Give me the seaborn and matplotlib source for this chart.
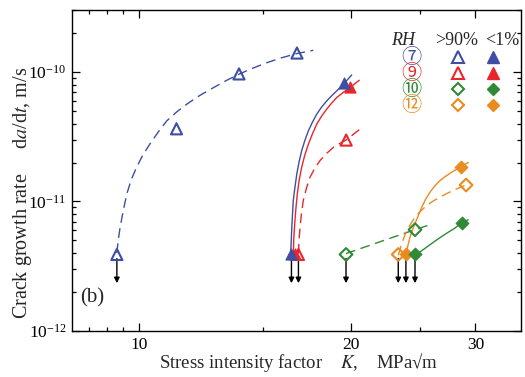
import numpy as np
import pandas as pd
import matplotlib
matplotlib.use("Agg")
import matplotlib.pyplot as plt
from matplotlib.ticker import FixedLocator, NullFormatter, LogLocator, LogFormatterSciNotation
import seaborn as sns

# ---------------- data ----------------
# markers: (K [MPa sqrt(m)], da/dt [m/s])
K7_wet = [9.30, 11.3, 13.86, 16.75]
r7_wet = [3.9e-12, 3.64e-11, 9.66e-11, 1.40e-10]
K7_dry = [16.45, 19.53]
r7_dry = [3.9e-12, 8.2e-11]
K9_wet = [16.83, 19.67]
r9_wet = [3.9e-12, 2.98e-11]
K9_dry = [16.62, 19.95]
r9_dry = [3.9e-12, 7.6e-11]
K10_wet = [19.66, 24.63]
r10_wet = [3.9e-12, 6.06e-12]
K10_dry = [24.63, 28.7]
r10_dry = [3.9e-12, 6.81e-12]
K12_wet = [23.32, 29.1]
r12_wet = [3.9e-12, 1.34e-11]
K12_dry = [23.91, 28.62]
r12_dry = [3.9e-12, 1.86e-11]

# fitted trend curves
cK7_wet = [9.30, 9.34, 9.40, 9.50, 9.61, 9.75, 9.92, 10.13, 10.36, 10.65, 10.95, 11.30, 11.69,
           12.20, 12.75, 13.30, 13.91, 14.50, 15.18, 15.95, 16.77, 17.67]
cr7_wet = [4.0e-12, 5.0e-12, 6.34e-12, 8.6e-12, 1.15e-11, 1.48e-11, 1.84e-11, 2.30e-11, 2.78e-11,
           3.45e-11, 4.2e-11, 4.9e-11, 5.65e-11, 6.6e-11, 7.57e-11, 8.6e-11, 9.7e-11, 1.07e-10,
           1.18e-10, 1.29e-10, 1.39e-10, 1.47e-10]
cK7_dry = [16.41, 16.44, 16.47, 16.51, 16.55, 16.64, 16.74, 16.86, 17.01, 17.19, 17.39, 17.62,
           17.87, 18.15, 18.46, 18.76, 19.07, 19.30, 19.53, 19.78, 20.03]
cr7_dry = [3.96e-12, 5.0e-12, 6.34e-12, 8.1e-12, 1.02e-11, 1.29e-11, 1.63e-11, 2.01e-11, 2.47e-11,
           2.97e-11, 3.52e-11, 4.1e-11, 4.73e-11, 5.35e-11, 5.98e-11, 6.55e-11, 7.14e-11, 7.62e-11,
           8.13e-11, 8.78e-11, 9.48e-11]
cK9_dry = [16.55, 16.58, 16.64, 16.70, 16.77, 16.87, 17.01, 17.18, 17.39, 17.62, 17.87, 18.15,
           18.46, 18.76, 19.07, 19.48, 19.92, 20.22, 20.53]
cr9_dry = [3.96e-12, 5.3e-12, 7.14e-12, 9.1e-12, 1.15e-11, 1.46e-11, 1.84e-11, 2.27e-11, 2.78e-11,
           3.33e-11, 3.96e-11, 4.55e-11, 5.17e-11, 5.75e-11, 6.34e-11, 6.95e-11, 7.57e-11,
           8.1e-11, 8.63e-11]
cK9_wet = [16.83, 16.86, 16.92, 17.00, 17.10, 17.27, 17.48, 17.75, 18.06, 18.45, 18.87, 19.26,
           19.66, 20.12, 20.58]
cr9_wet = [3.96e-12, 5.0e-12, 6.34e-12, 8.1e-12, 1.02e-11, 1.26e-11, 1.54e-11, 1.80e-11, 2.07e-11,
           2.35e-11, 2.62e-11, 2.80e-11, 2.98e-11, 3.29e-11, 3.62e-11]
cK10_wet = [19.66, 22.0, 24.63, 25.7]
cr10_wet = [3.96e-12, 4.9e-12, 6.06e-12, 6.54e-12]
cK10_dry = [24.63, 25.1, 25.6, 26.15, 26.73, 27.3, 27.92, 28.3, 28.7, 29.3]
cr10_dry = [3.84e-12, 4.12e-12, 4.45e-12, 4.84e-12, 5.26e-12, 5.68e-12, 6.12e-12, 6.45e-12,
            6.81e-12, 7.23e-12]
cK12_dry = [23.91, 24.05, 24.23, 24.42, 24.63, 24.90, 25.18, 25.50, 25.87, 26.28, 26.73, 27.15,
            27.61, 28.10, 28.62, 29.31]
cr12_dry = [3.84e-12, 4.5e-12, 5.31e-12, 6.0e-12, 6.74e-12, 7.8e-12, 9.04e-12, 1.04e-11, 1.18e-11,
            1.32e-11, 1.45e-11, 1.55e-11, 1.65e-11, 1.75e-11, 1.86e-11, 2.0e-11]
cK12_wet = [23.32, 23.45, 23.58, 23.77, 23.97, 24.30, 24.63, 25.10, 25.6, 26.15, 26.73, 27.30,
            27.92, 28.50, 29.1, 29.48]
cr12_wet = [3.84e-12, 4.25e-12, 4.73e-12, 5.3e-12, 5.98e-12, 6.75e-12, 7.57e-12, 8.45e-12,
            9.31e-12, 1.01e-11, 1.08e-11, 1.15e-11, 1.22e-11, 1.28e-11, 1.34e-11, 1.40e-11]

# threshold (no growth) arrows below these K values
arrow_K = [9.30, 16.45, 16.83, 19.66, 23.32, 23.91, 24.63]
arrow_r = [3.9e-12] * len(arrow_K)

legend_ids = ["⑦", "⑨", "⑩", "⑫"]
legend_head = ["RH", ">90%", "<1%"]
x_ticks = [10, 20, 30]
x_minor = [8.5, 9, 9.5, 15, 25]

# ---------------- style ----------------
sns.set_style("ticks")
plt.rcParams["font.family"] = ["Liberation Serif", "DejaVu Sans"]
plt.rcParams["mathtext.fontset"] = "stix"

BLUE = "#3d4ea3"
RED = "#e8262b"
GREEN = "#2f8a36"
ORANGE = "#e98b1e"

fig, ax = plt.subplots(figsize=(5.25, 3.77), dpi=100)
fig.subplots_adjust(left=0.137, right=0.992, top=0.973, bottom=0.122)
ax.set_xscale("log")
ax.set_yscale("log")

def curve(K, r, color, dashed):
    df = pd.DataFrame({"K": K, "r": r})
    sns.lineplot(data=df, x="K", y="r", ax=ax, color=color, lw=1.0,
                 sort=False, estimator=None, legend=False)
    line = ax.lines[-1]
    if dashed:
        line.set_dashes([7, 4])

curve(cK7_wet, cr7_wet, BLUE, True)
curve(cK7_dry, cr7_dry, BLUE, False)
curve(cK9_dry, cr9_dry, RED, False)
curve(cK9_wet, cr9_wet, RED, True)
curve(cK10_wet, cr10_wet, GREEN, True)
curve(cK10_dry, cr10_dry, GREEN, False)
curve(cK12_dry, cr12_dry, ORANGE, False)
curve(cK12_wet, cr12_wet, ORANGE, True)

# arrows
for k, r in zip(arrow_K, arrow_r):
    ax.annotate("", xy=(k, r * 0.60), xytext=(k, r * 0.93),
                arrowprops=dict(arrowstyle="-|>", color="black", lw=1.0,
                                mutation_scale=8, shrinkA=0, shrinkB=0))

def pts(K, r, color, marker, filled, s):
    df = pd.DataFrame({"K": K, "r": r})
    if filled:
        sns.scatterplot(data=df, x="K", y="r", ax=ax, marker=marker, s=s,
                        color=color, edgecolor=color, linewidth=0.8, zorder=5, legend=False)
    else:
        sns.scatterplot(data=df, x="K", y="r", ax=ax, marker=marker, s=s,
                        facecolor="none", edgecolor=color, linewidth=1.5, zorder=5, legend=False)

pts(K7_wet, r7_wet, BLUE, "^", False, 64)
pts(K9_wet, r9_wet, RED, "^", False, 64)
pts(K9_dry, r9_dry, RED, "^", True, 64)
pts(K7_dry, r7_dry, BLUE, "^", True, 64)
pts(K10_wet, r10_wet, GREEN, "D", False, 42)
pts(K12_wet, r12_wet, ORANGE, "D", False, 42)
pts(K12_dry, r12_dry, ORANGE, "D", True, 42)
pts(K10_dry, r10_dry, GREEN, "D", True, 42)

# axes
ax.set_xlim(8.03, 34.8)
ax.set_ylim(1e-12, 3.0e-10)
ax.xaxis.set_major_locator(FixedLocator(x_ticks))
ax.xaxis.set_minor_locator(FixedLocator(x_minor))
ax.set_xticklabels([str(t) for t in x_ticks])
ax.xaxis.set_minor_formatter(NullFormatter())
ax.yaxis.set_major_locator(LogLocator(base=10, numticks=10))
ax.yaxis.set_minor_locator(LogLocator(base=10, subs=np.arange(2, 10), numticks=20))
ax.yaxis.set_major_formatter(LogFormatterSciNotation())
ax.yaxis.set_minor_formatter(NullFormatter())
ax.tick_params(which="both", direction="in", top=True, right=True, width=0.9,
               labelsize=12.5, colors="black")
ax.tick_params(which="major", length=6, pad=4)
ax.tick_params(which="minor", length=3)
for sp in ax.spines.values():
    sp.set_color("black")
    sp.set_linewidth(1.0)

ax.set_xlabel("Stress intensity factor    $K$,    MPa√m", fontsize=13.5)
ax.set_ylabel("Crack growth rate     d$a$/d$t$, m/s", fontsize=14.5)
ax.xaxis.set_label_coords(0.506, -0.062)
ax.yaxis.set_label_coords(-0.084, 0.43)

ax.text(0.018, 0.103, "(b)", transform=ax.transAxes, fontsize=15, va="center", ha="left")

# custom legend table
ax.text(0.737, 0.907, legend_head[0], transform=ax.transAxes, fontsize=13,
        style="italic", ha="center", va="center")
ax.text(0.857, 0.907, legend_head[1], transform=ax.transAxes, fontsize=13,
        ha="center", va="center")
ax.text(0.958, 0.907, legend_head[2], transform=ax.transAxes, fontsize=13,
        ha="center", va="center")
rows_y = [0.854, 0.804, 0.754, 0.704]
colors = [BLUE, RED, GREEN, ORANGE]
markers = ["^", "^", "D", "D"]
msz = [8, 8, 6.5, 6.5]
for lab, yy, c, m, ms in zip(legend_ids, rows_y, colors, markers, msz):
    ax.text(0.757, yy, lab, transform=ax.transAxes, fontsize=14.5, color=c,
            ha="center", va="center", family=["Noto Sans CJK JP", "DejaVu Sans"])
    ax.plot([0.860], [yy], transform=ax.transAxes, marker=m, ms=ms, mfc="none",
            mec=c, mew=1.5, ls="none", clip_on=False)
    ax.plot([0.938], [yy], transform=ax.transAxes, marker=m, ms=ms, mfc=c,
            mec=c, ls="none", clip_on=False)

fig.savefig("out.png", dpi=100)
